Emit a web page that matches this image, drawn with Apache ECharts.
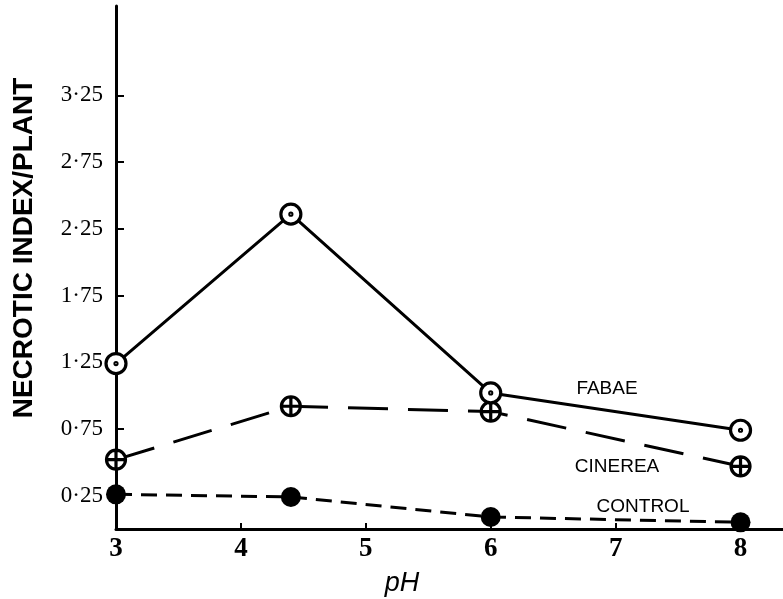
<!DOCTYPE html>
<html lang="en">
<head>
    <meta charset="UTF-8">
    <title>Necrotic index vs pH</title>
    <script src="https://cdn.jsdelivr.net/npm/echarts@6/dist/echarts.min.js"></script>
    <style>
        html, body { margin: 0; padding: 0; background: #fff; }
        #main { width: 783px; height: 599px; }
    </style>
</head>
<body>
<div id="main"></div>

<script>
    // values
    var phValues = [3, 4.4, 6, 8];
    var fabae = [1.24, 2.36, 1.02, 0.74];
    var cinerea = [0.52, 0.92, 0.88, 0.47];
    var control = [0.26, 0.24, 0.09, 0.05];

    var xTicks = [3, 4, 5, 6, 7, 8];
    var yTicks = [0.25, 0.75, 1.25, 1.75, 2.25, 2.75, 3.25];

    function pairs(ys) {
        return phValues.map(function (x, i) { return [x, ys[i]]; });
    }

    var ringDot = 'path://M10,0A10,10,0,1,1,-10,0A10,10,0,1,1,10,0Z M1,0A1,1,0,1,1,-1,0A1,1,0,1,1,1,0Z';
    var ringCross = 'path://M10,0A10,10,0,1,1,-10,0A10,10,0,1,1,10,0Z M0,-10L0,10 M-10,0L10,0';

    var myChart = echarts.init(document.getElementById('main'));

    var option = {
        animation: false,
        backgroundColor: '#fff',
        grid: {left: 116, right: 0, top: 6, bottom: 70},
        xAxis: {
            type: 'value',
            min: 3,
            max: 8.34,
            splitLine: {show: false},
            axisLine: {lineStyle: {color: '#000', width: 3}},
            axisTick: {inside: true, length: 6, customValues: xTicks, lineStyle: {color: '#000', width: 2}},
            axisLabel: {
                customValues: xTicks,
                color: '#000',
                fontFamily: 'Liberation Serif',
                fontSize: 27,
                fontWeight: 'bold',
                margin: 7
            }
        },
        yAxis: {
            type: 'value',
            min: 0,
            max: 3.92,
            splitLine: {show: false},
            axisLine: {show: true, lineStyle: {color: '#000', width: 3}},
            axisTick: {show: true, inside: true, length: 8, customValues: yTicks, lineStyle: {color: '#000', width: 2}},
            axisLabel: {
                customValues: yTicks,
                color: '#000',
                fontFamily: 'Liberation Serif',
                fontSize: 23,
                margin: 13,
                formatter: function (v) { return v.toFixed(2).replace('.', '·'); }
            }
        },
        graphic: [
            {
                type: 'text',
                x: 24, y: 248,
                rotation: Math.PI / 2,
                style: {
                    text: 'NECROTIC INDEX/PLANT',
                    fill: '#000',
                    font: 'bold 28px "Liberation Sans"',
                    textAlign: 'center',
                    textVerticalAlign: 'middle'
                }
            },
            {
                type: 'text',
                x: 402, y: 583,
                style: {
                    text: 'pH',
                    fill: '#000',
                    font: 'italic 27px "Liberation Sans"',
                    textAlign: 'center',
                    textVerticalAlign: 'middle'
                }
            },
            {
                type: 'text', x: 607, y: 389,
                style: {text: 'FABAE', fill: '#000', font: '19px "Liberation Sans"', textAlign: 'center', textVerticalAlign: 'middle'}
            },
            {
                type: 'text', x: 617, y: 467,
                style: {text: 'CINEREA', fill: '#000', font: '19px "Liberation Sans"', textAlign: 'center', textVerticalAlign: 'middle'}
            },
            {
                type: 'text', x: 643, y: 507,
                style: {text: 'CONTROL', fill: '#000', font: '19px "Liberation Sans"', textAlign: 'center', textVerticalAlign: 'middle'}
            }
        ],
        series: [
            {
                name: 'CONTROL',
                type: 'line',
                data: pairs(control),
                symbol: 'circle',
                symbolSize: 20,
                itemStyle: {color: '#000'},
                lineStyle: {color: '#000', width: 3, type: [16, 9]},
                z: 2
            },
            {
                name: 'CINEREA',
                type: 'line',
                data: pairs(cinerea),
                symbol: ringCross,
                symbolSize: 19,
                itemStyle: {color: '#fff', borderColor: '#000', borderWidth: 3.2},
                lineStyle: {color: '#000', width: 3, type: [40, 20]},
                z: 3
            },
            {
                name: 'FABAE',
                type: 'line',
                data: pairs(fabae),
                symbol: ringDot,
                symbolSize: 20,
                itemStyle: {color: '#fff', borderColor: '#000', borderWidth: 3.2},
                lineStyle: {color: '#000', width: 3},
                z: 4
            }
        ]
    };

    myChart.setOption(option, true);
</script>
</body>
</html>
